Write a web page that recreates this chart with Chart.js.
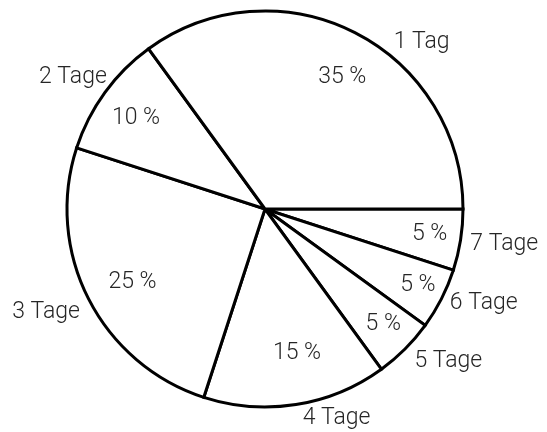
<!DOCTYPE html>
<html>
<head>
<meta charset="utf-8">
<script src="https://cdn.jsdelivr.net/npm/chart.js@4.4.0/dist/chart.umd.min.js"></script>
<style>
  html, body { margin: 0; padding: 0; background: #fff; }
  #wrap { width: 547px; height: 432px; }
</style>
</head>
<body>
<div id="wrap"><canvas id="pieChart" width="547" height="432"></canvas></div>
<script>
// data, in the order of the reference (counter-clockwise from 3 o'clock)
const categories = ['1 Tag', '2 Tage', '3 Tage', '4 Tage', '5 Tage', '6 Tage', '7 Tage'];
const shares = [35, 10, 25, 15, 5, 5, 5];

// Chart.js draws clockwise, so feed it reversed
const chartLabels = categories.slice().reverse();
const chartData = shares.slice().reverse();

// label placement: [angle offset from slice middle (deg), radius factor]
// same order as chartLabels
const pctPlace = [[-0.7, 0.84], [-0.9, 0.86], [-1, 0.83], [-3.6, 0.74], [-1.3, 0.76], [-0.5, 0.80], [3, 0.78]];
const namePlace = [[-1, 1.22], [-4, 1.20], [-5.5, 1.20], [-10, 1.11], [2, 1.22], [-1.3, 1.18], [16, 1.16]];

const labelPlugin = {
  id: 'sliceLabels',
  afterDatasetsDraw(chart) {
    const ctx = chart.ctx;
    const meta = chart.getDatasetMeta(0);
    ctx.save();
    ctx.font = '300 23px Roboto, "Liberation Sans", Arial, sans-serif';
    ctx.fillStyle = '#262626';
    ctx.textAlign = 'center';
    ctx.textBaseline = 'middle';
    meta.data.forEach((arc, i) => {
      const p = arc.getProps(['x', 'y', 'startAngle', 'endAngle', 'outerRadius'], true);
      const mid = (p.startAngle + p.endAngle) / 2;
      const put = (place, text) => {
        const a = mid + place[0] * Math.PI / 180;
        const r = p.outerRadius * place[1];
        ctx.fillText(text, p.x + Math.cos(a) * r, p.y + Math.sin(a) * r + 1.5);
      };
      put(pctPlace[i], chartData[i] + ' %');
      put(namePlace[i], chartLabels[i]);
    });
    ctx.restore();
  }
};

new Chart(document.getElementById('pieChart'), {
  type: 'pie',
  data: {
    labels: chartLabels,
    datasets: [{
      data: chartData,
      backgroundColor: '#ffffff',
      borderColor: '#000000',
      borderWidth: 3,
      borderJoinStyle: 'miter',
      hoverOffset: 0
    }]
  },
  options: {
    responsive: false,
    animation: false,
    rotation: 90,
    radius: 198,
    layout: { padding: { left: 0, right: 17, top: 0, bottom: 14 } },
    plugins: {
      legend: { display: false },
      tooltip: { enabled: false }
    }
  },
  plugins: [labelPlugin]
});
</script>
</body>
</html>
